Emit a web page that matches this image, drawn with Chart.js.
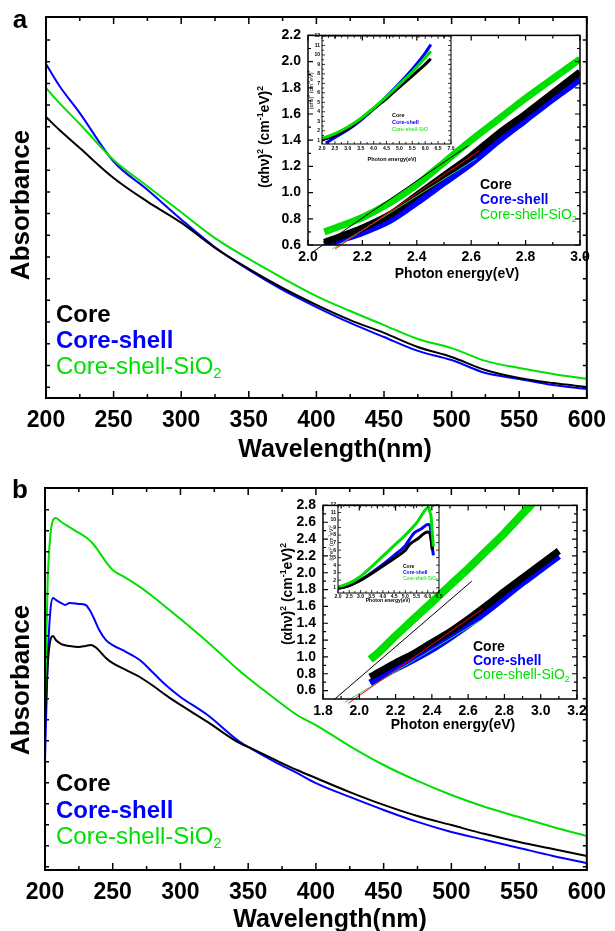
<!DOCTYPE html>
<html>
<head>
<meta charset="utf-8">
<script src="https://cdn.jsdelivr.net/npm/chart.js@4/dist/chart.umd.min.js"></script>
<style>
  body { margin: 0; background: #fff; width: 615px; height: 931px; position: relative; overflow: hidden; }
  canvas { position: absolute; }
</style>
</head>
<body>
<script>
// Colours
const BLACK = '#000000';
const BLUE = '#0000ff';
const GREEN = '#00e000';

// ---- Panel a: absorbance spectra ----
const wavesA = [200, 210, 225, 250, 275, 300, 325, 350, 375, 400, 425, 450, 475, 500, 525, 550, 575, 600];
const coreA  = [1.295, 1.235, 1.152, 1.014, 0.905, 0.808, 0.692, 0.595, 0.507, 0.429, 0.359, 0.300, 0.235, 0.189, 0.129, 0.092, 0.069, 0.051];
const shellA = [1.539, 1.438, 1.313, 1.090, 0.960, 0.823, 0.695, 0.590, 0.498, 0.419, 0.346, 0.281, 0.217, 0.175, 0.115, 0.088, 0.060, 0.041];
const sio2A  = [1.429, 1.359, 1.263, 1.097, 0.976, 0.856, 0.737, 0.641, 0.553, 0.470, 0.401, 0.336, 0.272, 0.230, 0.171, 0.138, 0.111, 0.088];

// Panel a inset: Tauc plot
const energyA    = [2.06, 2.1, 2.2, 2.3, 2.4, 2.5, 2.6, 2.7, 2.8, 2.9, 3.0];
const taucCoreA  = [0.62, 0.65, 0.73, 0.83, 0.98, 1.13, 1.28, 1.45, 1.60, 1.76, 1.92];
const taucShellA = [0.60, 0.63, 0.70, 0.79, 0.93, 1.08, 1.23, 1.40, 1.56, 1.72, 1.87];
const taucSio2A  = [0.70, 0.73, 0.81, 0.92, 1.06, 1.23, 1.40, 1.56, 1.72, 1.87, 2.02];
const fitBlackA = [[2.02, 0.55], [2.59, 1.36]];
const fitRedA   = [[2.10, 0.57], [2.63, 1.32]];
const fitGreenA = [[2.09, 0.57], [2.62, 1.26]];

// Panel a small inset: full Tauc range
const subEnergyA  = [2.0, 2.5, 3.0, 3.5, 4.0, 4.5, 5.0, 5.5, 6.0, 6.22];
const subCoreA    = [1.0, 1.5, 2.2, 3.2, 4.3, 5.4, 6.6, 7.8, 9.0, 9.6];
const subShellX   = [2.15, 2.5, 3.0, 3.5, 4.0, 4.5, 5.0, 5.5, 6.0, 6.22];
const subShellA   = [0.7, 1.3, 2.1, 3.1, 4.3, 5.6, 7.0, 8.5, 10.2, 11.1];
const subSio2A    = [1.2, 1.7, 2.4, 3.3, 4.4, 5.6, 6.9, 8.2, 9.7, 10.4];

// ---- Panel b: absorbance spectra ----
const wavesCoreB = [200, 202, 204, 206, 208, 212, 218, 225, 230, 234, 238, 242, 245, 250, 260, 270, 280, 290, 300, 320, 342, 350, 370, 386, 400, 425, 450, 475, 500, 525, 550, 575, 600];
const coreB = [0.714, 0.976, 1.095, 1.114, 1.095, 1.076, 1.067, 1.062, 1.067, 1.071, 1.057, 1.030, 1.010, 0.985, 0.952, 0.919, 0.876, 0.829, 0.786, 0.705, 0.610, 0.586, 0.524, 0.476, 0.438, 0.371, 0.310, 0.257, 0.214, 0.171, 0.133, 0.100, 0.067];
const wavesShellB = [200, 202, 204, 206, 208, 212, 215, 218, 225, 230, 233, 236, 240, 245, 250, 260, 270, 280, 290, 300, 320, 342, 350, 370, 386, 400, 425, 450, 475, 500, 525, 550, 575, 600];
const shellB = [0.524, 1.000, 1.238, 1.295, 1.286, 1.271, 1.262, 1.271, 1.267, 1.262, 1.238, 1.200, 1.143, 1.095, 1.071, 1.038, 1.000, 0.938, 0.876, 0.824, 0.738, 0.619, 0.586, 0.514, 0.462, 0.414, 0.348, 0.286, 0.229, 0.181, 0.143, 0.105, 0.067, 0.033];
const wavesSio2B = [200, 202, 204, 206, 208, 212, 218, 225, 230, 235, 240, 245, 250, 260, 270, 280, 290, 300, 320, 342, 350, 370, 386, 400, 425, 450, 475, 500, 525, 550, 575, 600];
const sio2B = [0.810, 1.381, 1.595, 1.667, 1.676, 1.657, 1.633, 1.605, 1.586, 1.557, 1.514, 1.467, 1.429, 1.390, 1.348, 1.300, 1.248, 1.195, 1.086, 0.957, 0.914, 0.814, 0.738, 0.690, 0.590, 0.500, 0.424, 0.357, 0.300, 0.252, 0.205, 0.162];

// Panel b inset: Tauc plot
const energyB    = [2.06, 2.1, 2.2, 2.3, 2.4, 2.5, 2.6, 2.7, 2.8, 2.9, 3.0, 3.1];
const taucCoreB  = [0.76, 0.81, 0.93, 1.04, 1.17, 1.30, 1.45, 1.61, 1.78, 1.94, 2.10, 2.26];
const taucShellB = [0.69, 0.74, 0.86, 0.97, 1.09, 1.23, 1.38, 1.54, 1.71, 1.88, 2.04, 2.20];
const taucSio2B  = [0.97, 1.04, 1.25, 1.45, 1.65, 1.85, 2.05, 2.26, 2.47, 2.70, 2.93, 3.17];
const fitBlackB = [[1.86, 0.49], [2.62, 1.90]];
const fitRedB   = [[1.94, 0.45], [2.68, 1.57]];
const fitGreenB = [[1.92, 0.46], [2.68, 1.45]];

// Panel b small inset
const subCoreXB  = [2.0, 2.5, 3.0, 3.5, 4.0, 4.5, 5.0, 5.2, 5.5, 6.0, 6.1, 6.15, 6.2];
const subCoreB   = [0.9, 1.3, 2.0, 2.9, 3.9, 4.9, 6.0, 6.8, 7.4, 8.4, 8.2, 7.3, 6.0];
const subShellXB = [2.0, 2.5, 3.0, 3.5, 4.0, 4.5, 5.0, 5.2, 5.4, 5.7, 6.0, 6.1, 6.15, 6.2, 6.25];
const subShellB  = [0.9, 1.3, 2.0, 3.0, 4.1, 5.3, 6.6, 7.5, 8.3, 8.8, 9.4, 9.3, 8.0, 6.5, 5.3];
const subSio2XB  = [2.0, 2.5, 3.0, 3.5, 4.0, 4.5, 5.0, 5.5, 6.05, 6.1, 6.15, 6.2, 6.25];
const subSio2B   = [1.1, 1.6, 2.5, 3.8, 5.2, 6.6, 8.0, 9.6, 11.7, 11.0, 10.4, 8.3, 6.5];

// Tick values
const waveTicks = [200, 250, 300, 350, 400, 450, 500, 550, 600];
const mainTicksA = [0.05, 0.15, 0.25, 0.35, 0.45, 0.55, 0.65, 0.75, 0.85, 0.95, 1.05, 1.15, 1.25, 1.35, 1.45, 1.55, 1.65];
const mainTicksB = [0.015, 0.115, 0.215, 0.315, 0.415, 0.515, 0.615, 0.715, 0.815, 0.915, 1.015, 1.115, 1.215, 1.315, 1.415, 1.515, 1.615, 1.715];
const insetXTicksA = [2.0, 2.2, 2.4, 2.6, 2.8, 3.0];
const insetYTicksA = [0.6, 0.8, 1.0, 1.2, 1.4, 1.6, 1.8, 2.0, 2.2];
const insetXTicksB = [1.8, 2.0, 2.2, 2.4, 2.6, 2.8, 3.0, 3.2];
const insetYTicksB = [0.6, 0.8, 1.0, 1.2, 1.4, 1.6, 1.8, 2.0, 2.2, 2.4, 2.6, 2.8];
const subXTicksA = [2.0, 2.5, 3.0, 3.5, 4.0, 4.5, 5.0, 5.5, 6.0, 6.5, 7.0];
const subXTicksB = [2.0, 2.5, 3.0, 3.5, 4.0, 4.5, 5.0, 5.5, 6.0, 6.5];
const subYTicks = [1, 2, 3, 4, 5, 6, 7, 8, 9, 10, 11, 12];

const FONT = '"Liberation Sans", Arial, Helvetica, sans-serif';
Chart.defaults.font.family = FONT;

const pts = (xs, ys) => xs.map((x, i) => ({ x, y: ys[i] }));
const seg = pair => pair.map(([x, y]) => ({ x, y }));

// Text with sup/sub parts, page coordinates
function drawRich(ctx, it, ox, oy) {
  const fontOf = sz => (it.bold ? 'bold ' : '') + sz + 'px ' + FONT;
  const parts = it.parts.map(([t, m]) => ({ t, m, sz: m ? it.size * 0.62 : it.size }));
  let w = 0;
  parts.forEach(p => { ctx.font = fontOf(p.sz); p.w = ctx.measureText(p.t).width; w += p.w; });
  ctx.save();
  ctx.translate(it.x - ox, it.y - oy);
  if (it.rot) ctx.rotate(it.rot);
  let x = it.align === 'left' ? 0 : -w / 2;
  ctx.textAlign = 'left';
  ctx.textBaseline = 'middle';
  ctx.fillStyle = it.color || BLACK;
  parts.forEach(p => {
    ctx.font = fontOf(p.sz);
    const dy = p.m === 'sup' ? -it.size * 0.33 : p.m === 'sub' ? it.size * 0.3 : 0;
    ctx.fillText(p.t, x, dy);
    x += p.w;
  });
  ctx.restore();
}

function textPlugin(items, ox, oy) {
  return {
    id: 'texts',
    afterDraw(chart) { items.forEach(it => drawRich(chart.ctx, it, ox, oy)); }
  };
}

// Box frame with inward ticks on all four sides
function framePlugin(o) {
  return {
    id: 'frame',
    afterDatasetsDraw(chart) {
      const { ctx, chartArea: a } = chart;
      const xs = chart.scales.x, ys = chart.scales.y;
      const marks = (vals, minor) => {
        const out = vals.map(v => [v, false]);
        if (minor) for (let i = 0; i < vals.length - 1; i++) out.push([(vals[i] + vals[i + 1]) / 2, true]);
        return out;
      };
      ctx.save();
      ctx.strokeStyle = BLACK;
      ctx.lineWidth = o.tick;
      ctx.beginPath();
      marks(xs.ticks.map(t => t.value), o.xMinor).forEach(([v, m]) => {
        const px = xs.getPixelForValue(v), L = m ? o.minor : o.major;
        ctx.moveTo(px, a.bottom); ctx.lineTo(px, a.bottom - L);
        ctx.moveTo(px, a.top); ctx.lineTo(px, a.top + L);
      });
      marks(ys.ticks.map(t => t.value), o.yMinor).forEach(([v, m]) => {
        const py = ys.getPixelForValue(v), L = m ? o.minor : (o.yLen || o.major);
        ctx.moveTo(a.left, py); ctx.lineTo(a.left + L, py);
        ctx.moveTo(a.right, py); ctx.lineTo(a.right - L, py);
      });
      ctx.stroke();
      ctx.lineWidth = o.width;
      ctx.strokeRect(a.left, a.top, a.right - a.left, a.bottom - a.top);
      ctx.restore();
    }
  };
}

function makeChart(c) {
  const cv = document.createElement('canvas');
  cv.width = c.w; cv.height = c.h;
  cv.style.left = c.left + 'px';
  cv.style.top = c.top + 'px';
  document.body.appendChild(cv);
  const [l, t, r, b] = c.area;
  const padL = l - c.left, padT = t - c.top, padR = c.left + c.w - r, padB = c.top + c.h - b;
  const axis = (min, max, ticks, fs, pad, show, fmt) => ({
    type: 'linear', min, max,
    grid: { display: false, drawTicks: false },
    border: { display: false },
    afterBuildTicks: s => { s.ticks = ticks.map(v => ({ value: v })); },
    ticks: {
      display: show, autoSkip: false, maxRotation: 0, minRotation: 0, padding: pad,
      color: BLACK, font: { size: fs, weight: 'bold' },
      callback: v => fmt(v)
    }
  });
  const xa = axis(c.x[0], c.x[1], c.xTicks, c.fs, c.xPad, true, c.xFmt);
  xa.afterFit = s => { s.height = padB; };
  const ya = axis(c.y[0], c.y[1], c.yTicks, c.fs, c.yPad, c.yShow, c.yFmt);
  ya.afterFit = s => { s.width = padL; };
  return new Chart(cv, {
    type: 'line',
    data: { datasets: c.datasets },
    options: {
      responsive: false, animation: false, events: [],
      layout: { autoPadding: false, padding: { left: 0, top: padT, right: padR, bottom: 0 } },
      plugins: { legend: { display: false }, tooltip: { enabled: false } },
      elements: { point: { radius: 0 } },
      scales: { x: xa, y: ya }
    },
    plugins: [framePlugin(c.frame), textPlugin(c.texts, c.left, c.top)]
  });
}

const curve = (data, color, width, order) => ({
  data, borderColor: color, borderWidth: width, fill: false,
  cubicInterpolationMode: 'monotone', order
});
const fitLine = (data, color) => ({
  data, borderColor: color, borderWidth: 1, fill: false, order: 0,
  clip: { left: 6, top: 0, right: 0, bottom: 8 }
});

const taucTitle = [['(\u03b1h\u03bd)', ''], ['2', 'sup'], [' (cm', ''], ['-1', 'sup'], ['eV)', ''], ['2', 'sup']];
const legendItems = (x, ys, size, sub) => [
  { parts: [['Core', '']], x, y: ys[0], size, bold: true, align: 'left', color: BLACK },
  { parts: [['Core-shell', '']], x, y: ys[1], size, bold: true, align: 'left', color: BLUE },
  { parts: sub ? [['Core-shell-SiO', ''], ['2', 'sub']] : [['Core-shell-SiO', '']], x, y: ys[2], size, bold: false, align: 'left', color: GREEN }
];
const fmt0 = v => String(v);
const fmt1 = v => v.toFixed(1);
const ROT = -Math.PI / 2;

// ---- Panel a ----
makeChart({
  left: 0, top: 0, w: 615, h: 465, area: [46, 17, 592, 398],
  x: [200, 600], y: [0, 1.756], xTicks: waveTicks, yTicks: mainTicksA,
  fs: 23, xPad: 9, yPad: 0, yShow: false, xFmt: fmt0, yFmt: fmt0,
  frame: { width: 2, tick: 1.5, major: 7, minor: 4, yLen: 4, xMinor: true, yMinor: false },
  datasets: [
    curve(pts(wavesA, sio2A), GREEN, 2, 1),
    curve(pts(wavesA, coreA), BLACK, 2, 2),
    curve(pts(wavesA, shellA), BLUE, 2, 3)
  ],
  texts: [
    { parts: [['a', '']], x: 20, y: 21, size: 26, bold: true },
    { parts: [['Absorbance', '']], x: 22, y: 205, size: 26, bold: true, rot: ROT },
    { parts: [['Wavelength(nm)', '']], x: 335, y: 450, size: 25, bold: true },
    ...legendItems(56, [315, 341, 367], 24, true)
  ]
});

makeChart({
  left: 250, top: 20, w: 355, h: 270, area: [308, 31, 580, 245],
  x: [2.0, 3.0], y: [0.6, 2.2], xTicks: insetXTicksA, yTicks: insetYTicksA,
  fs: 14, xPad: 4, yPad: 7, yShow: true, xFmt: fmt1, yFmt: fmt1,
  frame: { width: 1.5, tick: 1.2, major: 5, minor: 3, xMinor: true, yMinor: true },
  datasets: [
    fitLine(seg(fitBlackA), BLACK),
    fitLine(seg(fitRedA), '#ff0000'),
    fitLine(seg(fitGreenA), '#33cc66'),
    curve(pts(energyA, taucSio2A), GREEN, 7, 1),
    curve(pts(energyA, taucCoreA), BLACK, 7, 2),
    curve(pts(energyA, taucShellA), BLUE, 8, 3)
  ],
  texts: [
    { parts: taucTitle, x: 265, y: 137, size: 14, bold: true, rot: ROT },
    { parts: [['Photon energy(eV)', '']], x: 457, y: 274, size: 14, bold: true },
    ...legendItems(480, [185, 200, 215], 14, true)
  ]
});

makeChart({
  left: 298, top: 28, w: 162, h: 135, area: [322, 36, 451, 144],
  x: [2.0, 7.0], y: [0.6, 12], xTicks: subXTicksA, yTicks: subYTicks,
  fs: 5, xPad: 2, yPad: 2, yShow: true, xFmt: fmt1, yFmt: fmt0,
  frame: { width: 1, tick: 0.8, major: 3, minor: 2, xMinor: true, yMinor: true },
  datasets: [
    curve(pts(subEnergyA, subSio2A), GREEN, 3, 1),
    curve(pts(subEnergyA, subCoreA), BLACK, 3, 2),
    curve(pts(subShellX, subShellA), BLUE, 3, 3)
  ],
  texts: [
    { parts: taucTitle, x: 311, y: 90, size: 5.5, bold: false, rot: ROT },
    { parts: [['Photon energy(eV)', '']], x: 392, y: 159, size: 5.5, bold: true },
    ...legendItems(392, [115, 122, 129], 5.5, false)
  ]
});

// ---- Panel b ----
makeChart({
  left: 0, top: 465, w: 615, h: 466, area: [45, 488, 592, 870],
  x: [200, 600], y: [0, 1.819], xTicks: waveTicks, yTicks: mainTicksB,
  fs: 23, xPad: 9, yPad: 0, yShow: false, xFmt: fmt0, yFmt: fmt0,
  frame: { width: 2, tick: 1.5, major: 7, minor: 4, yLen: 4, xMinor: true, yMinor: false },
  datasets: [
    curve(pts(wavesSio2B, sio2B), GREEN, 2, 1),
    curve(pts(wavesCoreB, coreB), BLACK, 2, 2),
    curve(pts(wavesShellB, shellB), BLUE, 2, 3)
  ],
  texts: [
    { parts: [['b', '']], x: 20, y: 491, size: 26, bold: true },
    { parts: [['Absorbance', '']], x: 22, y: 680, size: 26, bold: true, rot: ROT },
    { parts: [['Wavelength(nm)', '']], x: 330, y: 920, size: 25, bold: true },
    ...legendItems(56, [784, 811, 837], 24, true)
  ]
});

makeChart({
  left: 260, top: 490, w: 345, h: 250, area: [323, 503, 577, 699],
  x: [1.8, 3.2], y: [0.5, 2.8], xTicks: insetXTicksB, yTicks: insetYTicksB,
  fs: 14, xPad: 4, yPad: 7, yShow: true, xFmt: fmt1, yFmt: fmt1,
  frame: { width: 1.5, tick: 1.2, major: 5, minor: 3, xMinor: true, yMinor: true },
  datasets: [
    fitLine(seg(fitBlackB), BLACK),
    fitLine(seg(fitRedB), '#ff0000'),
    fitLine(seg(fitGreenB), '#33cc66'),
    curve(pts(energyB, taucSio2B), GREEN, 8, 1),
    curve(pts(energyB, taucCoreB), BLACK, 7, 2),
    curve(pts(energyB, taucShellB), BLUE, 7, 3)
  ],
  texts: [
    { parts: taucTitle, x: 288, y: 594, size: 14, bold: true, rot: ROT },
    { parts: [['Photon energy(eV)', '']], x: 453, y: 725, size: 14, bold: true },
    ...legendItems(473, [647, 661, 675], 14, true)
  ]
});

makeChart({
  left: 318, top: 498, w: 130, h: 112, area: [338, 505, 439, 593],
  x: [2.0, 6.5], y: [0.3, 12], xTicks: subXTicksB, yTicks: subYTicks,
  fs: 5, xPad: 1, yPad: 2, yShow: true, xFmt: fmt1, yFmt: fmt0,
  frame: { width: 1, tick: 0.8, major: 3, minor: 2, xMinor: true, yMinor: false },
  datasets: [
    curve(pts(subSio2XB, subSio2B), GREEN, 3, 1),
    curve(pts(subCoreXB, subCoreB), BLACK, 3, 2),
    curve(pts(subShellXB, subShellB), BLUE, 3, 3)
  ],
  texts: [
    { parts: taucTitle, x: 332, y: 543, size: 5, bold: false, rot: ROT },
    { parts: [['Photon energy(eV)', '']], x: 388, y: 601, size: 5, bold: true },
    ...legendItems(403, [567, 573, 579], 5, true)
  ]
});
</script>
</body>
</html>
